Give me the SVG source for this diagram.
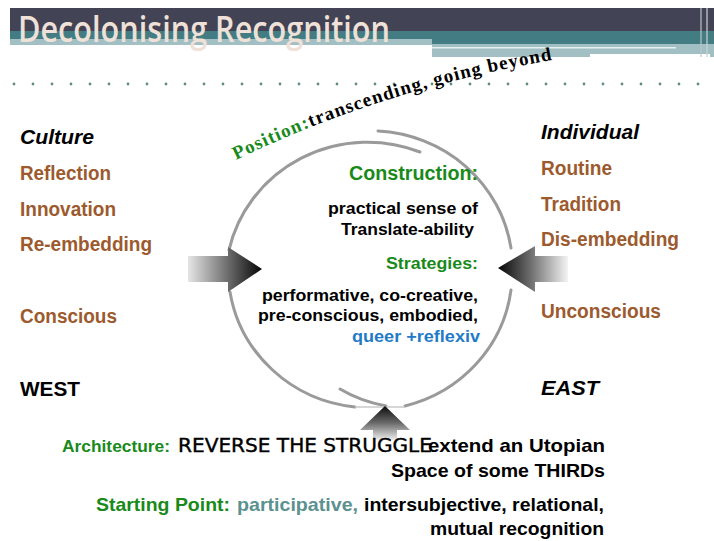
<svg xmlns="http://www.w3.org/2000/svg" width="714" height="541" viewBox="0 0 714 541">
  <style>
    .lbl { font-family: "Liberation Sans", Arial, sans-serif; font-weight: bold; }
    .brown { fill: #9c5a2e; font-size: 20px; }
    .head { fill: #000; font-size: 20px; font-style: italic; }
    .green { fill: #198a19; }
    .blk { fill: #000; }
    .ring { fill: none; stroke: #9a9a9a; stroke-width: 3; stroke-linecap: round; }
  </style>
  <defs>
    <linearGradient id="gRight" x1="0" y1="0" x2="1" y2="0">
      <stop offset="0" stop-color="#e6e6e6"/>
      <stop offset="0.55" stop-color="#6a6a6a"/>
      <stop offset="1" stop-color="#050505"/>
    </linearGradient>
    <linearGradient id="gLeft" x1="1" y1="0" x2="0" y2="0">
      <stop offset="0" stop-color="#f4f4f4"/>
      <stop offset="0.55" stop-color="#6a6a6a"/>
      <stop offset="1" stop-color="#050505"/>
    </linearGradient>
    <linearGradient id="gUp" x1="0" y1="1" x2="0" y2="0">
      <stop offset="0" stop-color="#eeeeee"/>
      <stop offset="0.5" stop-color="#6a6a6a"/>
      <stop offset="1" stop-color="#0a0a0a"/>
    </linearGradient>
    <path id="posArc" d="M236,160 Q380,90 552,60"/>
  </defs>

  <rect width="714" height="541" fill="#ffffff"/>

  <!-- title banner -->
  <g id="banner">
    <rect x="10" y="8" width="704" height="24" fill="#434356"/>
    <rect x="10" y="31" width="704" height="13" fill="#437d83"/>
    <rect x="10" y="39" width="422" height="6" fill="#a2c0c3"/>
    <rect x="432" y="44" width="282" height="13" fill="#a2c0c3"/>
    <rect x="432" y="47" width="244" height="1.5" fill="#e6f0f0"/>
    <rect x="590" y="54" width="120" height="3" fill="#ffffff"/>
    <rect x="700" y="8" width="2" height="49" fill="#b8c4c8" opacity="0.6"/>
    <rect x="706" y="8" width="2" height="49" fill="#c8d2d4" opacity="0.6"/>
    <text x="18" y="42" font-family="'Open Sans', 'DejaVu Sans', sans-serif" font-weight="600" font-size="36" fill="#efe1d8" textLength="372" lengthAdjust="spacingAndGlyphs">Decolonising Recognition</text>
  </g>

  <!-- dotted rule -->
  <g id="dots" fill="#5f8f7c">
    <circle cx="14" cy="84" r="1.4"/><circle cx="33" cy="84" r="1.4"/><circle cx="52" cy="84" r="1.4"/><circle cx="71" cy="84" r="1.4"/><circle cx="90" cy="84" r="1.4"/><circle cx="109" cy="84" r="1.4"/><circle cx="128" cy="84" r="1.4"/><circle cx="147" cy="84" r="1.4"/><circle cx="166" cy="84" r="1.4"/><circle cx="185" cy="84" r="1.4"/><circle cx="204" cy="84" r="1.4"/><circle cx="223" cy="84" r="1.4"/><circle cx="242" cy="84" r="1.4"/><circle cx="261" cy="84" r="1.4"/><circle cx="280" cy="84" r="1.4"/><circle cx="299" cy="84" r="1.4"/><circle cx="318" cy="84" r="1.4"/><circle cx="337" cy="84" r="1.4"/><circle cx="356" cy="84" r="1.4"/><circle cx="375" cy="84" r="1.4"/><circle cx="394" cy="84" r="1.4"/><circle cx="413" cy="84" r="1.4"/><circle cx="432" cy="84" r="1.4"/><circle cx="451" cy="84" r="1.4"/><circle cx="470" cy="84" r="1.4"/><circle cx="489" cy="84" r="1.4"/><circle cx="508" cy="84" r="1.4"/><circle cx="527" cy="84" r="1.4"/><circle cx="546" cy="84" r="1.4"/><circle cx="565" cy="84" r="1.4"/><circle cx="584" cy="84" r="1.4"/><circle cx="603" cy="84" r="1.4"/><circle cx="622" cy="84" r="1.4"/><circle cx="641" cy="84" r="1.4"/><circle cx="660" cy="84" r="1.4"/><circle cx="679" cy="84" r="1.4"/><circle cx="698" cy="84" r="1.4"/>
  </g>

  <!-- cycle ring and the three entry arrows -->
  <g id="connectors">
    <!-- left half: from the bottom, up the west side, over the top, curling inward -->
    <path class="ring" d="M355,407 A142,138 0 0 1 230,292"/>
    <path class="ring" d="M229,250 A142,138 0 0 1 420,152" />
    <!-- right half: from the top, down the east side, to the bottom -->
    <path class="ring" d="M378,131 A142,138 0 0 1 511,248"/>
    <path class="ring" d="M511,290 A142,138 0 0 1 405,406"/>
    <path class="ring" d="M340,389 Q360,401 386,406"/>
    <line x1="355" y1="407" x2="405" y2="407" stroke="#c8c8c8" stroke-width="1.5"/>

    <polygon id="arrowWest" points="188,256 228,256 228,247 262,269 228,292 228,282 188,282" fill="url(#gRight)"/>
    <polygon id="arrowEast" points="568,256 535,256 535,246 498,268 535,292 535,282 568,282" fill="url(#gLeft)"/>
    <polygon id="arrowSouth" points="373,440 373,430 360,430 385,406 410,430 397,430 397,440" fill="url(#gUp)"/>
  </g>

  <!-- position label along the top -->
  <g id="position">
    <text font-family="'Liberation Serif', 'Times New Roman', serif" font-weight="bold" font-size="19" letter-spacing="1.1">
      <textPath href="#posArc"><tspan fill="#198a19">Position:</tspan><tspan fill="#000">transcending, going beyond</tspan></textPath>
    </text>
  </g>

  <!-- west column -->
  <g id="west" class="lbl">
    <text x="20" y="144" class="head" textLength="74" lengthAdjust="spacingAndGlyphs">Culture</text>
    <text x="20" y="180" class="brown" textLength="91" lengthAdjust="spacingAndGlyphs">Reflection</text>
    <text x="20" y="216" class="brown" textLength="96" lengthAdjust="spacingAndGlyphs">Innovation</text>
    <text x="20" y="251" class="brown" textLength="132" lengthAdjust="spacingAndGlyphs">Re-embedding</text>
    <text x="20" y="323" class="brown" textLength="97" lengthAdjust="spacingAndGlyphs">Conscious</text>
    <text x="20" y="396" font-size="20" fill="#000" textLength="60" lengthAdjust="spacingAndGlyphs">WEST</text>
  </g>

  <!-- east column -->
  <g id="east" class="lbl">
    <text x="541" y="139" class="head" textLength="98" lengthAdjust="spacingAndGlyphs">Individual</text>
    <text x="541" y="175" class="brown" textLength="71" lengthAdjust="spacingAndGlyphs">Routine</text>
    <text x="541" y="211" class="brown" textLength="80" lengthAdjust="spacingAndGlyphs">Tradition</text>
    <text x="541" y="246" class="brown" textLength="138" lengthAdjust="spacingAndGlyphs">Dis-embedding</text>
    <text x="541" y="318" class="brown" textLength="120" lengthAdjust="spacingAndGlyphs">Unconscious</text>
    <text x="541" y="395" class="head" textLength="58" lengthAdjust="spacingAndGlyphs">EAST</text>
  </g>

  <!-- centre of the ring -->
  <g id="centre" class="lbl" text-anchor="end">
    <text x="478" y="180" class="green" font-size="20" textLength="129" lengthAdjust="spacingAndGlyphs">Construction:</text>
    <text x="478" y="214" class="blk" font-size="16.5" textLength="150" lengthAdjust="spacingAndGlyphs">practical sense of</text>
    <text x="474" y="235" class="blk" font-size="16.5" textLength="133" lengthAdjust="spacingAndGlyphs">Translate-ability</text>
    <text x="478" y="269" class="green" font-size="16.5" textLength="92" lengthAdjust="spacingAndGlyphs">Strategies:</text>
    <text x="478" y="301" class="blk" font-size="17" textLength="216" lengthAdjust="spacingAndGlyphs">performative, co-creative,</text>
    <text x="478" y="321" class="blk" font-size="17" textLength="220" lengthAdjust="spacingAndGlyphs">pre-conscious, embodied,</text>
    <text x="480" y="342" fill="#1f7bc8" font-size="17" textLength="128" lengthAdjust="spacingAndGlyphs">queer +reflexiv</text>
  </g>

  <!-- architecture line -->
  <g id="architecture" class="lbl">
    <text x="62" y="452" class="green" font-size="16" textLength="108" lengthAdjust="spacingAndGlyphs">Architecture:</text>
    <text x="178" y="452" font-family="'DejaVu Sans', Verdana, sans-serif" font-weight="normal" font-size="19" fill="#000" stroke="#000" stroke-width="0.4" textLength="254" lengthAdjust="spacingAndGlyphs">REVERSE THE STRUGGLE</text>
    <text x="605" y="452" text-anchor="end" class="blk" font-size="18.5" textLength="177" lengthAdjust="spacingAndGlyphs">extend an Utopian</text>
    <text x="605" y="477" text-anchor="end" class="blk" font-size="18.5" textLength="214" lengthAdjust="spacingAndGlyphs">Space of some THIRDs</text>
  </g>

  <!-- starting point line -->
  <g id="starting" class="lbl">
    <text x="96" y="511" class="green" font-size="18.5" textLength="134" lengthAdjust="spacingAndGlyphs">Starting Point:</text>
    <text x="237" y="511" fill="#5b9190" font-size="18.5" textLength="121" lengthAdjust="spacingAndGlyphs">participative,</text>
    <text x="364" y="511" class="blk" font-size="18.5" textLength="240" lengthAdjust="spacingAndGlyphs">intersubjective, relational,</text>
    <text x="604" y="535" text-anchor="end" class="blk" font-size="18.5" textLength="174" lengthAdjust="spacingAndGlyphs">mutual recognition</text>
  </g>
</svg>
